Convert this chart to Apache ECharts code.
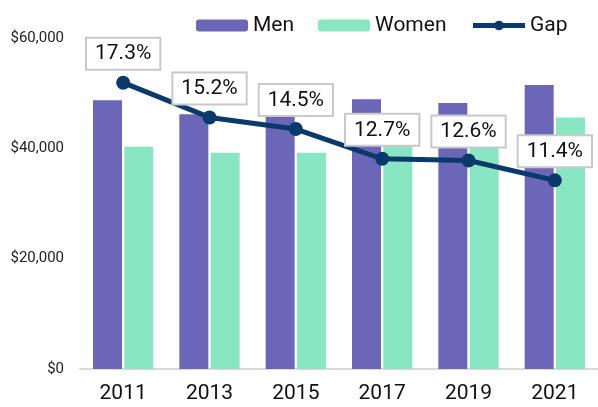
<!DOCTYPE html>
<html>
<head>
<meta charset="utf-8">
<script src="https://cdn.jsdelivr.net/npm/echarts@6/dist/echarts.min.js"></script>
<style>
  html, body { margin: 0; padding: 0; background: #fff; }
  #chart { width: 598px; height: 407px; }
</style>
</head>
<body>
<div id="chart"></div>
<script>
const years = ["2011", "2013", "2015", "2017", "2019", "2021"]
const menEarnings = [48700, 46200, 45800, 48900, 48200, 51500]
const womenEarnings = [40300, 39200, 39200, 42700, 42100, 45600]
const gapPercent = [17.3, 15.2, 14.5, 12.7, 12.6, 11.4]
const yTicks = [0, 20000, 40000, 60000]

const FONT = "Roboto"
const NAVY = "#0a3a6c"

const chart = echarts.init(document.getElementById("chart"), null, { renderer: "canvas" })

const option = {
  animation: false,
  textStyle: { fontFamily: FONT },
  legend: {
    top: 10,
    left: 191,
    itemWidth: 52,
    itemHeight: 12,
    itemGap: 24,
    textStyle: { fontFamily: FONT, fontSize: 21, color: "#111" },
    data: [
      "Men",
      "Women",
      { name: "Gap", lineStyle: { width: 5, color: NAVY }, itemStyle: { color: NAVY } }
    ]
  },
  grid: {
    left: 80,
    right: 0,
    top: 38,
    bottom: 38
  },
  xAxis: {
    type: "category",
    data: years,
    axisTick: { show: false },
    axisLine: { lineStyle: { color: "#d9d9d9", width: 2 } },
    axisLabel: { fontFamily: FONT, fontSize: 21, color: "#111", margin: 14 }
  },
  yAxis: [
    {
      type: "value",
      min: yTicks[0],
      max: yTicks[yTicks.length - 1],
      interval: yTicks[1] - yTicks[0],
      splitLine: { show: false },
      axisLine: { show: false },
      axisTick: { show: false },
      axisLabel: {
        fontFamily: FONT,
        fontSize: 15,
        color: "#222",
        margin: 16,
        formatter: (v) => "$" + v.toLocaleString("en-US")
      }
    },
    {
      type: "value",
      min: 0,
      max: 20,
      show: false
    }
  ],
  series: [
    {
      name: "Men",
      type: "bar",
      data: menEarnings,
      barWidth: 29,
      barGap: "8%",
      itemStyle: { color: "#6b66b8" }
    },
    {
      name: "Women",
      type: "bar",
      data: womenEarnings,
      barWidth: 29,
      itemStyle: { color: "#89e6c3" }
    },
    {
      name: "Gap",
      type: "line",
      yAxisIndex: 1,
      data: gapPercent,
      z: 5,
      symbol: "circle",
      symbolSize: 14,
      lineStyle: { color: NAVY, width: 5 },
      itemStyle: { color: NAVY },
      label: {
        show: true,
        position: "top",
        distance: 7,
        formatter: (p) => p.value.toFixed(1) + "%",
        fontFamily: FONT,
        fontSize: 21,
        color: "#111",
        backgroundColor: "#fff",
        borderColor: "#c9c9c9",
        borderWidth: 2,
        padding: [5, 8, 4, 8]
      }
    }
  ]
}

chart.setOption(option)
</script>
</body>
</html>
